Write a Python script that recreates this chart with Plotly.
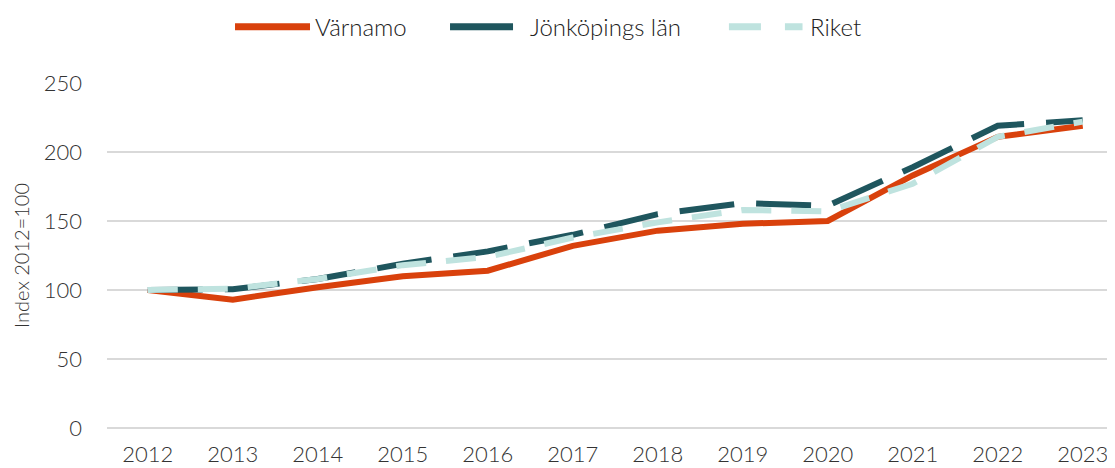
import plotly.graph_objects as go

years = [str(y) for y in range(2012, 2024)]

# index values, 2012 = 100
varnamo = [100, 93, 102, 110, 114, 132, 143, 148, 150, 183, 211, 219]
jonkoping = [100, 100.5, 108, 119, 128, 140, 155, 163, 161, 189, 219, 223]
riket = [100, 101, 108, 118, 124, 138, 149, 158, 157, 177, 211, 222]

series_names = ["Värnamo", "Jönköpings län", "Riket"]
colors = ["#D9410C", "#1F565E", "#BFE3DF"]
dashes = ["solid", "55px,22px", "30px,20px"]

font_family = "Lato"
text_color = "#333333"

fig = go.Figure()

for name, values, color, dash in zip(series_names, [varnamo, jonkoping, riket], colors, dashes):
    fig.add_trace(go.Scatter(
        x=years, y=values, name=name, mode="lines",
        line=dict(color=color, width=6, dash=dash),
        showlegend=False,
    ))

# hand-made legend on top (plotly's legend swatches are too short)
legend_y = 1.163
legend_items = [
    # (x0, x1, text x, dash) in paper coords
    (0.127, 0.2014, 0.2044, "solid"),
    (0.3403, 0.4028, 0.4177, "solid"),
    (0.617, 0.690, 0.6954, "32px,24px"),
]
for (x0, x1, tx, dash), name, color in zip(legend_items, series_names, colors):
    fig.add_shape(
        type="line", xref="paper", yref="paper",
        x0=x0, x1=x1, y0=legend_y, y1=legend_y,
        line=dict(color=color, width=7, dash=dash),
    )
    fig.add_annotation(
        xref="paper", yref="paper", x=tx, y=legend_y,
        xanchor="left", yanchor="middle", showarrow=False,
        text=name, font=dict(size=24, color="#222222", family=font_family, weight=300),
    )

fig.update_layout(
    width=1115,
    height=468,
    margin=dict(l=99, r=8, t=75, b=48, autoexpand=False),
    paper_bgcolor="white",
    plot_bgcolor="white",
    font=dict(family=font_family, color=text_color, size=22, weight=300),
    showlegend=False,
)

fig.update_xaxes(
    type="category",
    range=[-0.48, 11.38],
    automargin=False,
    showgrid=False,
    showline=False,
    ticks="",
    ticklabelstandoff=11,
    tickfont=dict(size=22, color=text_color, weight=300),
)

fig.update_yaxes(
    range=[0, 250],
    dtick=50,
    automargin=False,
    showgrid=True,
    gridcolor="#D9D9D9",
    gridwidth=1.5,
    zeroline=True,
    zerolinecolor="#D9D9D9",
    zerolinewidth=1.5,
    ticks="",
    ticklabelstandoff=24,
    tickfont=dict(size=22, color=text_color, weight=300),
    title=dict(text="Index 2012=100", font=dict(size=20, color=text_color, weight=300), standoff=8),
)

fig.write_html("out.html")
